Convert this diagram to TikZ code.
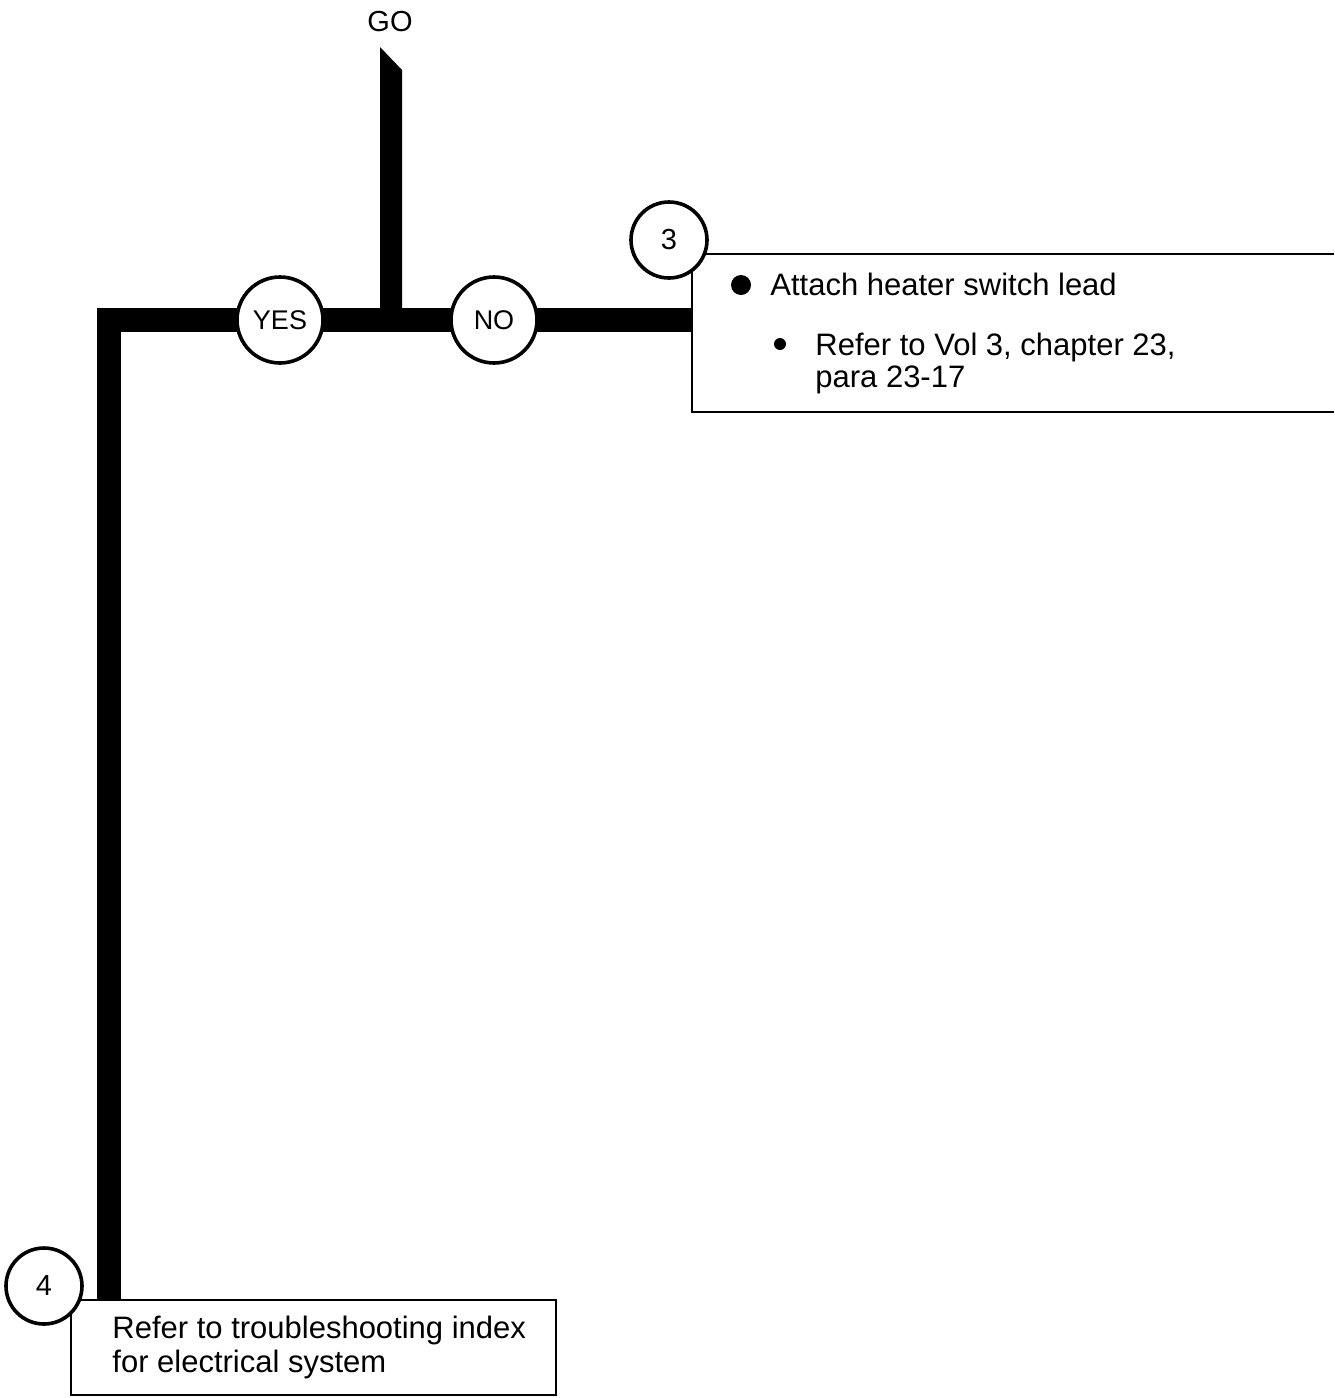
\documentclass[tikz,border=0pt]{standalone}
\usepackage{fontspec}
\setmainfont{Liberation Sans}
\usetikzlibrary{backgrounds}
\begin{document}
\begin{tikzpicture}[x=0.5pt,y=-0.5pt,
  bar/.style={line width=12pt,line join=miter,line cap=butt},
  ring/.style={circle,draw,line width=1.8pt,fill=white,inner sep=0pt,minimum size=43pt,font=\fontsize{13.5}{15}\selectfont},
  numring/.style={circle,draw,line width=1.8pt,fill=white,inner sep=0pt,minimum size=38pt,font=\fontsize{14.5}{16}\selectfont},
  boxline/.style={line width=1pt},
  txt/.style={anchor=base west,inner sep=0pt,font=\fontsize{15.5}{16.5}\selectfont}]
\useasboundingbox (0,0) rectangle (1334,1398);
% coordinates
\coordinate (corner) at (109,320);
\coordinate (b3left) at (692,320);
\coordinate (b4top) at (109,1300);
% GO label
\node[font=\fontsize{14.5}{16}\selectfont] (go) at (390,22) {GO};
% box 3 (open at right edge)
\draw[boxline] (1334,254) -- (692,254) -- (692,412) -- (1334,412);
% box 4
\draw[boxline] (71,1300) rectangle (556,1395);
% decision circles
\node[ring] (yes) at (280,320) {YES};
\node[ring] (no) at (494,320) {NO};
% connectors, behind the circles
\begin{scope}[on background layer]
\fill (380,47) -- (402,70) -- (402,320) -- (380,320) -- cycle;
\draw[bar] (b4top) -- (corner) -- (yes.center);
\draw[bar] (yes.center) -- (no.center);
\draw[bar] (no.center) -- (b3left);
\end{scope}
% numbered circles
\node[numring] (n3) at (669,240) {3};
\node[numring] (n4) at (44,1286) {4};
% box 3 text
\fill (741,285) circle (5pt);
\node[txt] (t3a) at (770,295) {Attach heater switch lead};
\fill (780,344) circle (3pt);
\node[txt] (t3b) at (815,355) {Refer to Vol 3, chapter 23,};
\node[txt] (t3c) at (815,387) {para 23-17};
% box 4 text
\node[txt] (t4a) at (112,1338) {Refer to troubleshooting index};
\node[txt] (t4b) at (112,1372) {for electrical system};
\end{tikzpicture}
\end{document}
